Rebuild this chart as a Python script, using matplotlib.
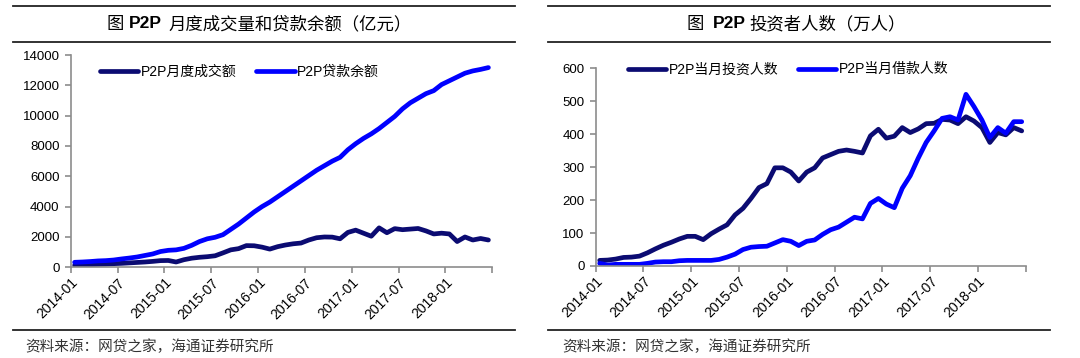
import numpy as np
import matplotlib
matplotlib.use('Agg')
import matplotlib.pyplot as plt
from matplotlib.lines import Line2D
from matplotlib.transforms import ScaledTranslation

plt.rcParams['font.family'] = ['Liberation Sans', 'Noto Sans CJK SC']
plt.rcParams['axes.unicode_minus'] = False

# 月份（2014-01 ~ 2018-06）
months = [f'{y}-{m:02d}' for y in range(2014, 2019) for m in range(1, 13)][:54]
tick_labels = ['2014-01', '2014-07', '2015-01', '2015-07', '2016-01',
               '2016-07', '2017-01', '2017-07', '2018-01']

# 左图：P2P月度成交额、贷款余额（亿元）
volume = [130, 150, 170, 190, 210, 240, 260, 290, 320, 350, 390, 440,
          450, 350, 500, 600, 660, 700, 760, 950, 1150, 1230, 1430, 1420,
          1330, 1200, 1360, 1470, 1550, 1600, 1800, 1950, 2000, 1990, 1880, 2300,
          2450, 2250, 2050, 2600, 2280, 2550, 2480, 2520, 2560, 2400, 2200, 2250,
          2200, 1700, 2000, 1800, 1900, 1800]
balance = [330, 350, 380, 420, 440, 480, 550, 610, 680, 780, 880, 1040,
           1120, 1150, 1250, 1450, 1700, 1880, 1980, 2150, 2500, 2850, 3250, 3650,
           4000, 4300, 4650, 5000, 5350, 5700, 6050, 6400, 6700, 7000, 7250, 7750,
           8150, 8500, 8800, 9150, 9550, 9950, 10450, 10850, 11150, 11450, 11650, 12050,
           12300, 12550, 12800, 12950, 13050, 13170]

# 右图：P2P当月投资人数、借款人数（万人）
investors = [17, 18, 21, 26, 27, 30, 40, 52, 63, 72, 82, 90,
             90, 80, 98, 112, 125, 155, 175, 205, 238, 250, 298, 298,
             285, 258, 285, 298, 328, 338, 348, 352, 348, 343, 395, 415,
             388, 394, 420, 405, 416, 432, 433, 445, 443, 432, 453, 440,
             420, 375, 405, 398, 420, 410]
borrowers = [8, 3, 5, 5, 5, 5, 8, 12, 13, 13, 16, 17,
             17, 17, 17, 20, 27, 36, 50, 57, 59, 60, 70, 80,
             75, 62, 75, 79, 96, 110, 118, 133, 148, 143, 190, 205,
             188, 177, 236, 274, 327, 375, 410, 448, 453, 443, 521, 484,
             443, 390, 420, 403, 438, 438]

NAVY = '#0b0b72'
BLUE = '#0000ff'
GRID = '#8c8c8c'

W, H = 1080, 358
fig = plt.figure(figsize=(W / 100, H / 100), dpi=100)


def px(x, y):
    return x / W, 1 - y / H


def style_axis(ax, ymax, ystep):
    x = np.arange(len(months)) + 0.5
    ax.set_xlim(0, len(months))
    ax.set_ylim(0, ymax)
    ax.set_yticks(np.arange(0, ymax + 1, ystep))
    ax.set_xticks(np.arange(0, len(months) + 1, 6))
    ax.set_xticklabels(tick_labels + [''], rotation=45, ha='right',
                       rotation_mode='anchor', fontsize=10)
    # 标签稍向右下偏移
    off = ScaledTranslation(5 / 100, -4 / 100, fig.dpi_scale_trans)
    for lab in ax.get_xticklabels():
        lab.set_transform(lab.get_transform() + off)
    for s in ['top', 'right']:
        ax.spines[s].set_visible(False)
    for s in ['left', 'bottom']:
        ax.spines[s].set_color(GRID)
        ax.spines[s].set_linewidth(1.2)
    ax.tick_params(axis='both', colors=GRID, length=4, width=1.2, labelcolor='black')
    ax.tick_params(axis='y', labelsize=9.5, pad=4)
    ax.tick_params(axis='x', pad=2)
    return x


# ---------- 左图 ----------
ax1 = fig.add_axes([70.7 / W, (H - 267.3) / H, (492.3 - 70.7) / W, (267.3 - 55) / H])
x = style_axis(ax1, 14000, 2000)
ax1.plot(x, volume, color=NAVY, lw=3.4, solid_joinstyle='round', solid_capstyle='round', label='P2P月度成交额')
ax1.plot(x, balance, color=BLUE, lw=3.4, solid_joinstyle='round', solid_capstyle='round', label='P2P贷款余额')
ax1.legend(ncol=2, frameon=False, loc='upper left', bbox_to_anchor=(0.07, 0.955),
           fontsize=10, handlelength=2.75, handletextpad=0.2, columnspacing=1.4,
           borderpad=0, borderaxespad=0)

# ---------- 右图 ----------
ax2 = fig.add_axes([595.7 / W, (H - 266) / H, (1025.7 - 595.7) / W, (266 - 68.3) / H])
x = style_axis(ax2, 600, 100)
ax2.plot(x, investors, color=NAVY, lw=3.4, solid_joinstyle='round', solid_capstyle='round', label='P2P当月投资人数')
ax2.plot(x, borrowers, color=BLUE, lw=3.4, solid_joinstyle='round', solid_capstyle='round', label='P2P当月借款人数')
ax2.legend(ncol=2, frameon=False, loc='upper left', bbox_to_anchor=(0.075, 1.03),
           fontsize=10, handlelength=2.75, handletextpad=0.2, columnspacing=1.4,
           borderpad=0, borderaxespad=0)

# ---------- 标题与分隔线 ----------
for x0, x1 in [(13, 515), (548, 1050)]:
    for y in [5.5, 42, 330]:
        fig.add_artist(Line2D([x0 / W, x1 / W], [1 - y / H, 1 - y / H],
                              color='#222222', lw=1.3))

title_pieces = [
    (107, '图', 'normal'), (129, 'P2P', 'bold'), (168, '月度成交量和贷款余额（亿元）', 'normal'),
    (687, '图', 'normal'), (713, 'P2P', 'bold'), (749, '投资者人数（万人）', 'normal'),
]
for xp, txt, wt in title_pieces:
    fig.text(*px(xp, 24), txt, fontsize=12.5, fontweight=wt, ha='left', va='center')

fig.text(*px(25, 347), '资料来源：网贷之家，海通证券研究所', fontsize=10.5,
         color='#333333', ha='left', va='center')
fig.text(*px(562, 347), '资料来源：网贷之家，海通证券研究所', fontsize=10.5,
         color='#333333', ha='left', va='center')

fig.savefig('out.png', dpi=100, facecolor='white')
